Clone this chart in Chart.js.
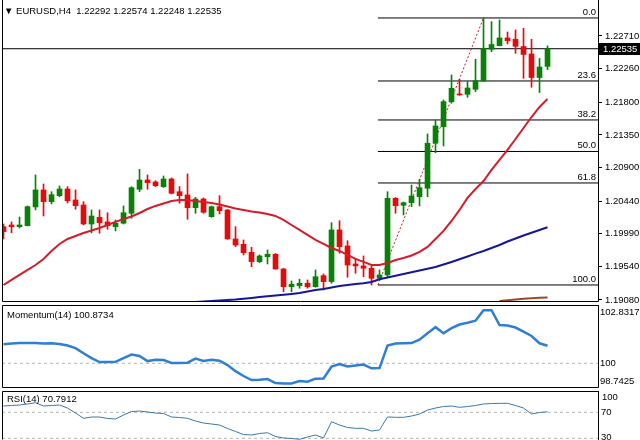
<!DOCTYPE html>
<html lang="en">

<head>
  <meta charset="UTF-8" />
  <title>EURUSD H4</title>
  <script src="https://cdn.jsdelivr.net/npm/chart.js"></script>
  <style>
    body { margin: 0; background: #fff; }
    #wrap { position: relative; width: 640px; height: 440px; overflow: hidden; background: #fff;
            font-family: "Liberation Sans", Arial, sans-serif; }
    #wrap canvas { position: absolute; left: 0; top: 0; }
    #wrap #mainChart { top: -20px; z-index: 1; }
    #wrap #momChart { z-index: 2; }
    #wrap #rsiChart { z-index: 3; }
    .lbl { position: absolute; z-index: 4; font-size: 9.5px; line-height: 11px; color: #000; white-space: pre; }
  </style>
</head>

<body>
  <div id="wrap">
    <!-- the main and RSI canvases run 20px past the window edge so their outer labels get room -->
    <canvas id="mainChart" width="640" height="460"></canvas>
    <canvas id="momChart" width="640" height="440"></canvas>
    <canvas id="rsiChart" width="640" height="460"></canvas>
    <div class="lbl" style="left:4px;top:5px">▼ EURUSD,H4  1.22292 1.22574 1.22248 1.22535</div>
    <div class="lbl" style="left:7px;top:309px">Momentum(14) 100.8734</div>
    <div class="lbl" style="left:7px;top:393px">RSI(14) 70.7912</div>
    <div class="lbl" style="left:602px;top:391px">100</div>
  </div>

  <script>
    // H4 candles, oldest first
    const opens = [
      1.20088, 1.20111, 1.20088, 1.20102, 1.20359, 1.20593, 1.20432, 1.20514, 1.20606, 1.20455,
      1.20386, 1.20125, 1.20217, 1.20153, 1.20088, 1.20135, 1.20272, 1.20602, 1.20730, 1.20703,
      1.20638, 1.20744, 1.20569, 1.20524, 1.20349, 1.20469, 1.20225, 1.20363, 1.20318, 1.19919,
      1.19846, 1.19736, 1.19607, 1.19675, 1.19708, 1.19506, 1.19263, 1.19277, 1.19310, 1.19263,
      1.19414, 1.19332, 1.20043, 1.19823, 1.19575, 1.19548, 1.19516, 1.19378, 1.19424, 1.20478,
      1.20382, 1.20418, 1.20500, 1.20616, 1.21235, 1.21463, 1.21807, 1.21913, 1.21908, 1.21977,
      1.22091, 1.22527, 1.22577, 1.22683, 1.22665, 1.22566, 1.22463, 1.22139, 1.22292
    ];
    const highs = [
      1.20125, 1.20153, 1.20221, 1.20373, 1.20799, 1.20675, 1.20569, 1.20648, 1.20638, 1.20593,
      1.20432, 1.20318, 1.20318, 1.20280, 1.20180, 1.20373, 1.20638, 1.20877, 1.20799, 1.20720,
      1.20785, 1.20758, 1.20638, 1.20813, 1.20492, 1.20483, 1.20373, 1.20514, 1.20324, 1.20088,
      1.19905, 1.19805, 1.19699, 1.19768, 1.19719, 1.19516, 1.19341, 1.19365, 1.19355, 1.19493,
      1.19438, 1.20143, 1.20170, 1.19895, 1.19653, 1.19685, 1.19548, 1.19493, 1.20569, 1.20489,
      1.20428, 1.20661, 1.20740, 1.21363, 1.21555, 1.21830, 1.22174, 1.22115, 1.22082, 1.22390,
      1.22958, 1.22907, 1.22930, 1.22765, 1.22793, 1.22816, 1.22665, 1.22401, 1.22574
    ];
    const lows = [
      1.19919, 1.20005, 1.20070, 1.20098, 1.20318, 1.20235, 1.20400, 1.20500, 1.20414, 1.20327,
      1.20111, 1.20001, 1.19997, 1.20052, 1.20029, 1.20125, 1.20203, 1.20569, 1.20602, 1.20638,
      1.20627, 1.20538, 1.20410, 1.20190, 1.20272, 1.20272, 1.20217, 1.20263, 1.19915, 1.19813,
      1.19699, 1.19538, 1.19593, 1.19575, 1.19502, 1.19194, 1.19194, 1.19241, 1.19241, 1.19255,
      1.19218, 1.19310, 1.19722, 1.19392, 1.19447, 1.19400, 1.19286, 1.19355, 1.19400, 1.20272,
      1.20249, 1.20363, 1.20373, 1.20500, 1.21105, 1.21198, 1.21785, 1.21895, 1.21867, 1.21944,
      1.22084, 1.22494, 1.22573, 1.22600, 1.22472, 1.22128, 1.22005, 1.21933, 1.22248
    ];
    const closes = [
      1.20019, 1.20088, 1.20111, 1.20363, 1.20593, 1.20432, 1.20528, 1.20606, 1.20445, 1.20377,
      1.20125, 1.20235, 1.20143, 1.20102, 1.20135, 1.20280, 1.20624, 1.20730, 1.20693, 1.20652,
      1.20744, 1.20547, 1.20514, 1.20349, 1.20469, 1.20286, 1.20363, 1.20308, 1.19919, 1.19836,
      1.19730, 1.19607, 1.19685, 1.19708, 1.19506, 1.19263, 1.19296, 1.19310, 1.19263, 1.19400,
      1.19332, 1.20043, 1.19813, 1.19561, 1.19548, 1.19516, 1.19378, 1.19424, 1.20478, 1.20377,
      1.20418, 1.20510, 1.20624, 1.21235, 1.21473, 1.21807, 1.21991, 1.21899, 1.21995, 1.22095,
      1.22541, 1.22593, 1.22683, 1.22645, 1.22568, 1.22456, 1.22139, 1.22284, 1.22535
    ];

    // moving averages (red over all bars, blue and brown only where visible)
    const redMA = [
      1.19286, 1.19355, 1.19424, 1.19493, 1.19561, 1.19644, 1.19754, 1.19850, 1.19919, 1.19960,
      1.20001, 1.20036, 1.20070, 1.20111, 1.20153, 1.20194, 1.20228, 1.20276, 1.20331, 1.20373,
      1.20407, 1.20441, 1.20455, 1.20455, 1.20441, 1.20428, 1.20414, 1.20393, 1.20366, 1.20338,
      1.20318, 1.20297, 1.20283, 1.20263, 1.20235, 1.20180, 1.20111, 1.20043, 1.19974, 1.19905,
      1.19850, 1.19795, 1.19754, 1.19699, 1.19644, 1.19603, 1.19561, 1.19561, 1.19589, 1.19630,
      1.19658, 1.19692, 1.19740, 1.19809, 1.19919, 1.20029, 1.20166, 1.20318, 1.20483, 1.20606,
      1.20716, 1.20868, 1.21005, 1.21143, 1.21294, 1.21445, 1.21596, 1.21734, 1.21844
    ];
    const blueFrom = 24;
    const blueMA = [
      1.19053, 1.19059, 1.19066, 1.19073, 1.19080, 1.19087, 1.19097, 1.19108, 1.19121, 1.19131,
      1.19142, 1.19152, 1.19163, 1.19176, 1.19197, 1.19218, 1.19231, 1.19252, 1.19273, 1.19286,
      1.19300, 1.19310, 1.19328, 1.19365, 1.19389, 1.19413, 1.19438, 1.19462, 1.19486, 1.19510,
      1.19534, 1.19568, 1.19603, 1.19640, 1.19678, 1.19717, 1.19754, 1.19795, 1.19836, 1.19884,
      1.19926, 1.19967, 1.20004, 1.20043, 1.20080
    ];
    const brownFrom = 62;
    const brownMA = [1.19066, 1.19077, 1.19087, 1.19097, 1.19103, 1.19110, 1.19114];

    const momentum = [
      100.94, 100.98, 101.00, 101.01, 101.00, 100.98, 100.99, 100.95, 100.88, 100.75,
      100.50, 100.26, 100.06, 100.06, 100.07, 100.26, 100.43, 100.36, 100.11, 100.18,
      100.16, 100.02, 100.02, 100.03, 100.23, 100.12, 100.18, 100.13, 99.91, 99.61,
      99.37, 99.17, 99.19, 99.22, 99.02, 99.00, 99.00, 99.12, 99.09, 99.24,
      99.25, 99.84, 99.96, 99.84, 99.89, 99.94, 99.75, 99.76, 100.88, 100.98,
      100.99, 101.00, 101.17, 101.49, 101.79, 101.49, 101.74, 101.92, 102.01, 102.11,
      102.63, 102.63, 101.89, 101.87, 101.77, 101.57, 101.35, 100.99, 100.87
    ];
    const rsi = [
      79.7, 80.5, 81.2, 82.8, 84.8, 79.7, 80.5, 81.2, 76.6, 68.9,
      60.8, 62.8, 62.8, 60.5, 59.7, 65.8, 71.2, 72.0, 70.5, 68.9,
      68.2, 62.8, 62.0, 60.8, 56.6, 53.5, 52.0, 50.5, 45.1, 40.5,
      35.8, 35.1, 37.4, 38.6, 32.8, 30.5, 29.7, 28.5, 32.0, 35.1,
      30.5, 55.5, 50.5, 46.6, 45.4, 45.4, 41.2, 42.8, 62.8, 62.3,
      62.3, 64.3, 67.4, 73.5, 76.6, 78.9, 79.7, 77.7, 78.9, 80.5,
      82.8, 83.5, 83.8, 83.8, 80.5, 76.6, 67.4, 69.7, 70.79
    ];

    // fibonacci retracement drawn from the swing low to the swing high
    const fibLow = 1.19286, fibHigh = 1.22958;
    const fibStartBar = 46.8, fibEndBar = 60;
    const fibRatios = [0, 0.236, 0.382, 0.5, 0.618, 1];
    const fibNames = ['0.0', '23.6', '38.2', '50.0', '61.8', '100.0'];

    // axis ticks (the RSI "100" sits in the page as a plain label)
    const priceTicks = [1.22710, 1.22260, 1.21800, 1.21350, 1.20900, 1.20440, 1.19990, 1.19540, 1.19080];
    const momTickAt = [102.54, 100, 99.12];
    const momTickNames = ['102.8317', '100', '98.7425'];
    const rsiTickAt = [70, 31.5];
    const rsiTickNames = ['70', '30'];

    const lastClose = closes[closes.length - 1];
    const xMin = -0.19, xMax = 74.31;
    const FONT = '"Liberation Sans", Arial, sans-serif';
    const UP = '#0a800a', DOWN = '#e30b0b';

    Chart.defaults.font.family = FONT;

    const xAxis = () => ({ type: 'linear', min: xMin, max: xMax, display: false, offset: false, grid: { offset: false } });

    function sideAxis(min, max, at, names, tickLen, pad) {
      return {
        position: 'right', min: min, max: max,
        afterFit: s => { s.width = 42; },
        afterBuildTicks: s => { s.ticks = at.map(v => ({ value: v })); },
        ticks: { autoSkip: false, color: '#000', font: { size: 9.5 }, padding: pad,
                 callback: (v, i) => names[i] },
        grid: { drawOnChartArea: false, drawTicks: true, tickLength: tickLen, color: '#000' },
        border: { display: false }
      };
    }

    const panelFrame = {
      id: 'panelFrame',
      afterDraw(chart, args, opts) {
        const { ctx, chartArea: a } = chart;
        const l = a.left + 0.5, r = a.right + 0.5, t = a.top + 0.5, b = a.bottom - 0.5;
        ctx.save();
        ctx.strokeStyle = '#000';
        ctx.lineWidth = 1;
        ctx.beginPath();
        ctx.moveTo(l, opts.top ? t : a.top); ctx.lineTo(l, b);
        ctx.moveTo(r, a.top); ctx.lineTo(r, opts.bottom ? b : a.bottom);
        if (opts.top) { ctx.moveTo(l, t); ctx.lineTo(r, t); }
        if (opts.bottom) { ctx.moveTo(l, b); ctx.lineTo(r, b); }
        ctx.stroke();
        ctx.restore();
      }
    };

    const fibNotes = {
      id: 'fibNotes',
      afterDatasetsDraw(chart) {
        const { ctx, chartArea: a, scales: { y } } = chart;
        ctx.save();
        ctx.font = '9.5px ' + FONT;
        ctx.fillStyle = '#000';
        ctx.textAlign = 'right';
        ctx.textBaseline = 'bottom';
        fibRatios.forEach((r, i) => {
          const py = Math.round(y.getPixelForValue(fibHigh - r * (fibHigh - fibLow)));
          ctx.fillText(fibNames[i], a.right - 2, py - 1);
        });
        const py = Math.round(y.getPixelForValue(lastClose));
        ctx.fillRect(a.right + 1, py - 6, 42, 12);
        ctx.fillStyle = '#fff';
        ctx.textAlign = 'left';
        ctx.textBaseline = 'middle';
        ctx.fillText(lastClose.toFixed(5), a.right + 5, py + 0.5);
        ctx.restore();
      }
    };

    const candleColors = opens.map((o, i) => closes[i] >= o ? UP : DOWN);
    const series = (arr, from) => arr.map((v, i) => ({ x: i + from, y: v }));
    const flat = (y0, fromX, toX) => [{ x: fromX, y: y0 }, { x: toX, y: y0 }];
    const lineStyle = (color, width, order) => ({
      type: 'line', borderColor: color, borderWidth: width, pointRadius: 0, tension: 0, order: order
    });

    const fibSets = fibRatios.map(r => Object.assign(lineStyle('#000', 1, 5), {
      data: flat(fibHigh - r * (fibHigh - fibLow), fibStartBar, xMax)
    }));

    new Chart(document.getElementById('mainChart'), {
      type: 'bar',
      data: {
        datasets: [
          Object.assign(lineStyle('#d41c2a', 2, 1), { data: series(redMA, 0) }),
          Object.assign(lineStyle('#16169c', 2, 1), { data: series(blueMA, blueFrom) }),
          Object.assign(lineStyle('#9c4a22', 2, 1), { data: series(brownMA, brownFrom) }),
          {
            type: 'bar', order: 2, grouped: false, barThickness: 5, minBarLength: 1,
            backgroundColor: candleColors, borderWidth: 0,
            data: opens.map((o, i) => ({ x: i, y: [o, closes[i]] }))
          },
          {
            type: 'bar', order: 3, grouped: false, barThickness: 1,
            backgroundColor: candleColors, borderWidth: 0,
            data: lows.map((l, i) => ({ x: i, y: [l, highs[i]] }))
          },
          Object.assign(lineStyle('#c81e1e', 1, 4), {
            borderDash: [2, 2],
            data: [{ x: fibStartBar, y: fibLow }, { x: fibEndBar, y: fibHigh }]
          }),
          ...fibSets,
          Object.assign(lineStyle('#000', 1, 6), { data: flat(lastClose, xMin, xMax) })
        ]
      },
      options: {
        responsive: false, animation: false, events: [],
        layout: { padding: { left: 2, top: 20, right: 0, bottom: 138 } },
        plugins: { legend: { display: false }, tooltip: { enabled: false },
                   panelFrame: { top: false, bottom: true } },
        scales: {
          x: xAxis(),
          y: sideAxis(1.19052, 1.23205, priceTicks, priceTicks.map(v => v.toFixed(5)), 4, 3)
        }
      },
      plugins: [panelFrame, fibNotes]
    });

    new Chart(document.getElementById('momChart'), {
      type: 'line',
      data: {
        datasets: [
          Object.assign(lineStyle('#2f7fd2', 2.5, 1), { data: series(momentum, 0) }),
          Object.assign(lineStyle('#b4b4b4', 1, 2), { borderDash: [3, 3], data: flat(100, xMin, xMax) })
        ]
      },
      options: {
        responsive: false, animation: false, events: [],
        layout: { padding: { left: 2, top: 305, right: 0, bottom: 52 } },
        plugins: { legend: { display: false }, tooltip: { enabled: false },
                   panelFrame: { top: true, bottom: true } },
        scales: { x: xAxis(), y: sideAxis(98.777, 102.886, momTickAt, momTickNames, 1, 1) }
      },
      plugins: [panelFrame]
    });

    new Chart(document.getElementById('rsiChart'), {
      type: 'line',
      data: {
        datasets: [
          Object.assign(lineStyle('#3c78aa', 1, 1), { data: series(rsi, 0) }),
          Object.assign(lineStyle('#b4b4b4', 1, 2), { borderDash: [3, 3], data: flat(70, xMin, xMax) }),
          Object.assign(lineStyle('#b4b4b4', 1, 2), { borderDash: [3, 3], data: flat(30, xMin, xMax) })
        ]
      },
      options: {
        responsive: false, animation: false, events: [],
        layout: { padding: { left: 2, top: 391, right: 0, bottom: 20 } },
        plugins: { legend: { display: false }, tooltip: { enabled: false },
                   panelFrame: { top: true, bottom: false } },
        scales: { x: xAxis(), y: sideAxis(27.4, 102.8, rsiTickAt, rsiTickNames, 1, 2) }
      },
      plugins: [panelFrame]
    });
  </script>
</body>

</html>
